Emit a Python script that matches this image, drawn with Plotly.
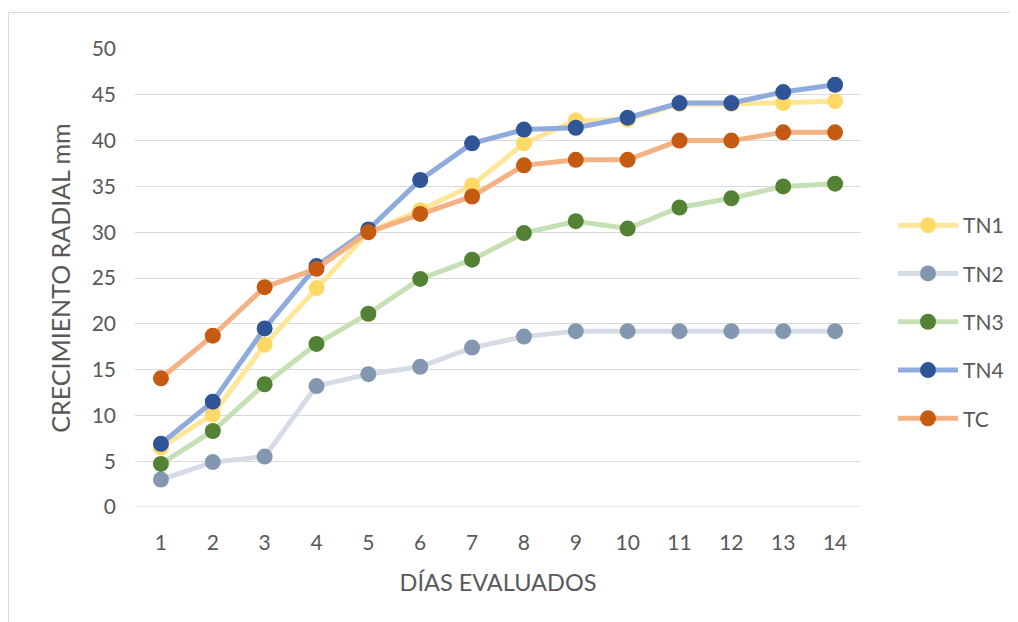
import plotly.graph_objects as go

days = list(range(1, 15))
tick_labels = [str(d) for d in days]

series_names = ["TN1", "TN2", "TN3", "TN4", "TC"]
tn1 = [6.5, 10.1, 17.7, 23.9, 30.0, 32.4, 35.1, 39.7, 42.2, 42.3, 44.0, 44.0, 44.1, 44.3]
tn2 = [3.0, 4.9, 5.5, 13.2, 14.5, 15.3, 17.4, 18.6, 19.2, 19.2, 19.2, 19.2, 19.2, 19.2]
tn3 = [4.7, 8.3, 13.4, 17.8, 21.1, 24.9, 27.0, 29.9, 31.2, 30.4, 32.7, 33.7, 35.0, 35.3]
tn4 = [6.9, 11.5, 19.5, 26.3, 30.3, 35.7, 39.7, 41.2, 41.4, 42.5, 44.1, 44.1, 45.3, 46.1]
tc = [14.05, 18.7, 24.0, 26.0, 30.0, 32.0, 33.9, 37.3, 37.9, 37.9, 40.0, 40.0, 40.9, 40.9]
values = [tn1, tn2, tn3, tn4, tc]

line_colors = ["#FFE699", "#D6DCE5", "#C5E0B4", "#8FAADC", "#F4B183"]
marker_colors = ["#FFD966", "#8497B0", "#548235", "#2F5597", "#C55A11"]

FONT = "Lato"
GREY = "#595959"

fig = go.Figure()
for name, vals, lc, mc in zip(series_names, values, line_colors, marker_colors):
    fig.add_trace(go.Scatter(
        x=days, y=vals, name=name, mode="lines+markers",
        line=dict(color=lc, width=5),
        marker=dict(color=mc, size=16, line=dict(width=0)),
        legendgroup=name,
    ))

# page body has an 8px margin; compensate so the plot lands where the reference has it
OFF = 8
W, H = 1018 - OFF, 622 - OFF
pw, ph = 726, 458
ml, mt = 135 - OFF, 49 - OFF
mr = W - ml - pw
mb = H - mt - ph

def px_x(x):  # page pixel -> paper x
    return (x - OFF - ml) / pw

def px_y(y):  # page pixel -> paper y
    return (mt + ph - (y - OFF)) / ph

fig.update_layout(
    width=W, height=H,
    margin=dict(l=ml, r=mr, t=mt, b=mb, autoexpand=False),
    paper_bgcolor="white", plot_bgcolor="white",
    font=dict(family=FONT, color=GREY, size=21),
    showlegend=True,
    legend=dict(
        x=px_x(893), xanchor="left",
        y=px_y(322), yanchor="middle",
        font=dict(size=21, color=GREY),
        tracegroupgap=18,
        itemwidth=60,
        bgcolor="rgba(0,0,0,0)",
    ),
    xaxis=dict(
        range=[0.5, 14.5], tickmode="array", tickvals=days, ticktext=tick_labels,
        showgrid=False, zeroline=False, showline=False, ticks="",
        ticklabelstandoff=21,
        tickfont=dict(size=21, color=GREY),
        title=dict(text="DÍAS EVALUADOS", font=dict(size=23.5, color=GREY), standoff=21),
    ),
    yaxis=dict(
        range=[0, 50], dtick=5, showgrid=True, gridcolor="#D9D9D9", gridwidth=1,
        zeroline=False, showline=False, ticks="",
        ticklabelstandoff=18,
        tickfont=dict(size=21, color=GREY),
        title=dict(text="CRECIMIENTO RADIAL mm", font=dict(size=25, color=GREY), standoff=13),
    ),
    shapes=[
        dict(type="rect", xref="paper", yref="paper",
             x0=px_x(8.5), x1=px_x(1040),
             y0=px_y(650), y1=px_y(12.5),
             line=dict(color="#D9D9D9", width=1), layer="below"),
        dict(type="line", xref="paper", yref="y", x0=0, x1=1, y0=0, y1=0,
             line=dict(color="#D9D9D9", width=1), layer="below"),
    ],
)

fig.write_html("out.html")
